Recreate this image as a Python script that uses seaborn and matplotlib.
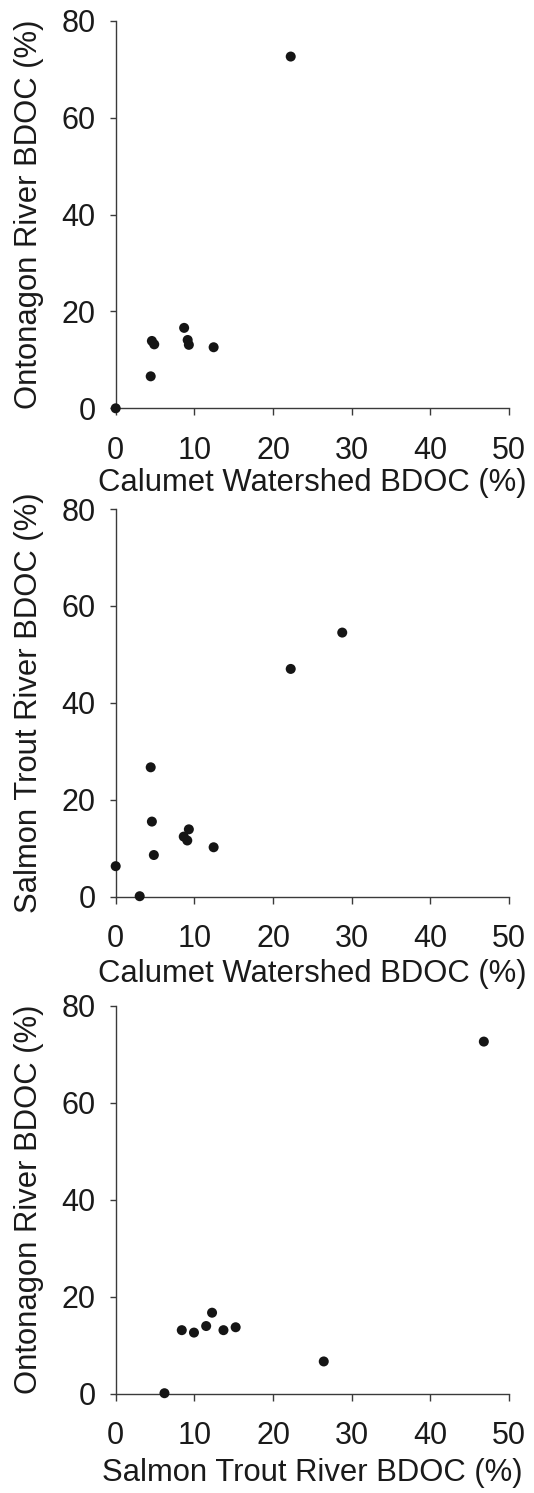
import matplotlib
matplotlib.use("Agg")
import matplotlib.pyplot as plt
import seaborn as sns
import pandas as pd

# Panel 1: Calumet vs Ontonagon
calumet_1 = [22.25, 8.7, 4.6, 4.9, 9.15, 9.3, 12.45, 4.45, 0.0]
ontonagon_1 = [72.6, 16.6, 13.9, 13.2, 14.1, 13.1, 12.6, 6.6, 0.0]

# Panel 2: Calumet vs Salmon Trout
calumet_2 = [28.8, 22.25, 4.45, 4.6, 9.3, 8.65, 9.1, 12.45, 4.85, 0.0, 3.05]
salmon_2 = [54.5, 47.0, 26.7, 15.5, 13.9, 12.4, 11.6, 10.2, 8.6, 6.3, 0.1]

# Panel 3: Salmon Trout vs Ontonagon
salmon_3 = [46.8, 12.25, 8.4, 9.95, 11.5, 13.7, 15.25, 26.45, 6.2]
ontonagon_3 = [72.6, 16.7, 13.1, 12.6, 13.95, 13.1, 13.7, 6.65, 0.1]

x_ticks = [0, 10, 20, 30, 40, 50]
y_ticks = [0, 20, 40, 60, 80]

panels = [
    (calumet_1, ontonagon_1, "Calumet Watershed BDOC (%)", "Ontonagon River BDOC (%)"),
    (calumet_2, salmon_2, "Calumet Watershed BDOC (%)", "Salmon Trout River BDOC (%)"),
    (salmon_3, ontonagon_3, "Salmon Trout River BDOC (%)", "Ontonagon River BDOC (%)"),
]

sns.set_theme(style="ticks")
plt.rcParams["font.family"] = ["Liberation Sans", "DejaVu Sans"]

W, H = 534, 1493
fig = plt.figure(figsize=(W / 100, H / 100), dpi=100)
fig.patch.set_facecolor("white")

# axes pixel boxes: (left, top, right, bottom)
boxes = [(115.7, 20.7, 509.0, 408.3), (115.7, 509.0, 509.0, 896.7), (115.7, 1005.7, 509.0, 1393.7)]
xlabel_y = [-0.154, -0.1615, -0.1667]

axis_col = "#3a3a3a"
for (xs, ys, xl, yl), (l, t, r, b), xly in zip(panels, boxes, xlabel_y):
    ax = fig.add_axes([l / W, 1 - b / H, (r - l) / W, (b - t) / H])
    df = pd.DataFrame({"x": xs, "y": ys})
    sns.scatterplot(data=df, x="x", y="y", ax=ax, color="#151515", s=52,
                    edgecolor="none", clip_on=False, zorder=5)
    ax.set_xlim(0, 50)
    ax.set_ylim(0, 80)
    ax.set_xticks(x_ticks)
    ax.set_yticks(y_ticks)
    ax.set_facecolor("white")
    for side in ["top", "right"]:
        ax.spines[side].set_visible(False)
    for side in ["left", "bottom"]:
        ax.spines[side].set_color(axis_col)
        ax.spines[side].set_linewidth(1.0)
    ax.tick_params(axis="x", direction="out", length=4.8, width=1.0, color=axis_col,
                   labelsize=22, pad=15, labelcolor="#1a1a1a")
    ax.tick_params(axis="y", direction="out", length=4, width=1.0, color=axis_col,
                   labelsize=22, pad=10.5, labelcolor="#1a1a1a")
    ax.set_xlabel(xl, fontsize=22.3, color="#1a1a1a")
    ax.set_ylabel(yl, fontsize=22.3, color="#1a1a1a")
    ax.xaxis.set_label_coords(0.5, xly)
    ax.yaxis.set_label_coords(-0.1835, 0.5)

fig.savefig("out.png", dpi=100)
